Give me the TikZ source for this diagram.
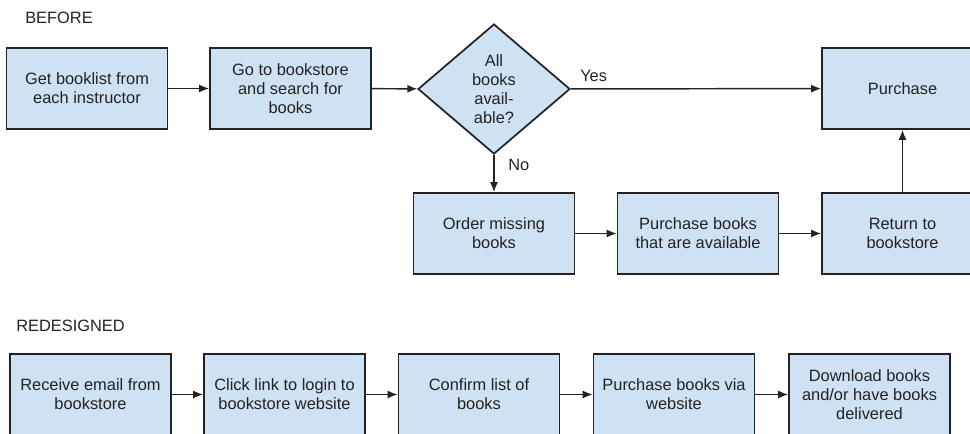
\documentclass[tikz,border=0pt]{standalone}
\usepackage{fontspec}
\setmainfont{Liberation Sans}
\usetikzlibrary{shapes.geometric,arrows.meta}
\definecolor{boxblue}{HTML}{CFE2F3}
\definecolor{ink}{HTML}{222222}
\newcommand{\flowfont}{\fontsize{12.3}{14.3}\selectfont}

\begin{document}
\begin{tikzpicture}[x=0.75pt,y=-0.75pt,
    stepbox/.style={draw=ink, fill=boxblue, line width=1.3pt, inner sep=0pt,
      minimum width=120.75pt, minimum height=60.75pt, align=center, text=ink, font=\flowfont},
    choice/.style={diamond, draw=ink, fill=boxblue, line width=1.3pt, inner sep=0pt,
      minimum width=114pt, minimum height=97.5pt, align=center, text=ink, font=\flowfont},
    flow/.style={draw=ink, line width=1.1pt, -{Latex[length=7.5pt,width=6pt]}},
    lbl/.style={anchor=west, inner sep=0pt, text=ink, font=\flowfont}]
    \useasboundingbox (0,0) rectangle (970,433);
    % before
    \node [lbl] (before) at (25,18) {BEFORE};
    \node [stepbox] (getlist) at (87,88.5) {Get booklist from\\each instructor};
    \node [stepbox] (search) at (290.5,88.5) {Go to bookstore\\and search for\\books};
    \node [choice] (check) at (494,89) {All\\books\\avail-\\able?};
    \node [stepbox] (buy) at (902.5,88.5) {Purchase};
    \node [stepbox] (order) at (494,233.5) {Order missing\\books};
    \node [stepbox] (buysome) at (698,233.5) {Purchase books\\that are available};
    \node [stepbox] (back) at (902.5,233.5) {Return to\\bookstore};
    \draw [flow] (getlist) -- (search);
    \draw [flow] (search) -- (check);
    \draw [flow] (check) -- (buy);
    \draw [flow] (check) -- (order);
    \draw [flow] (order) -- (buysome);
    \draw [flow] (buysome) -- (back);
    \draw [flow] (back) -- (buy);
    \node [lbl] (yes) at (580,76) {Yes};
    \node [lbl] (no) at (508,165) {No};
    % redesigned
    \node [lbl] (redesigned) at (16,326) {REDESIGNED};
    \node [stepbox] (email) at (90.5,394.5) {Receive email from\\bookstore};
    \node [stepbox] (login) at (284.5,394.5) {Click link to login to\\bookstore website};
    \node [stepbox] (confirm) at (479,394.5) {Confirm list of\\books};
    \node [stepbox] (pay) at (674,394.5) {Purchase books via\\website};
    \node [stepbox] (deliver) at (869.5,394.5) {Download books\\and/or have books\\delivered};
    \draw [flow] (email) -- (login);
    \draw [flow] (login) -- (confirm);
    \draw [flow] (confirm) -- (pay);
    \draw [flow] (pay) -- (deliver);
\end{tikzpicture}
\end{document}
